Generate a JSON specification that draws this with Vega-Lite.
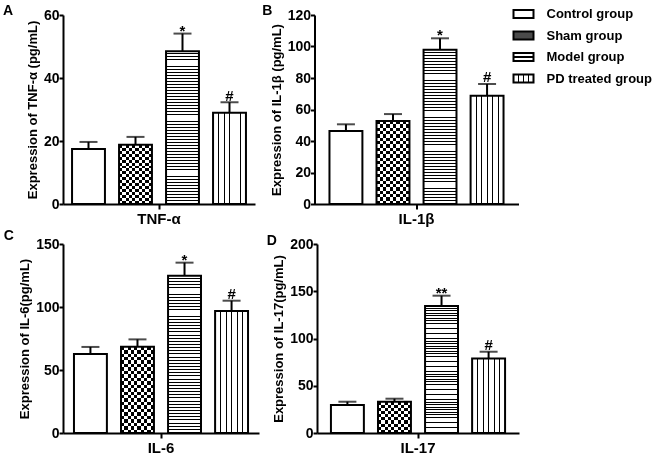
{
  "$schema": "https://vega.github.io/schema/vega-lite/v6.json",
  "padding": {"left": 2, "top": 3, "right": 0, "bottom": 0},
  "background": "white",
  "params": [
    {"name": "gShamV", "value": {"gradient": "linear", "x1": 0, "y1": 0, "x2": 1, "y2": 0, "stops": [
        {"offset": 0.1, "color": "#fff"}, {"offset": 0.1, "color": "#000"}, {"offset": 0.2, "color": "#000"}, {"offset": 0.2, "color": "#fff"},
        {"offset": 0.3, "color": "#fff"}, {"offset": 0.3, "color": "#000"}, {"offset": 0.4, "color": "#000"}, {"offset": 0.4, "color": "#fff"},
        {"offset": 0.5, "color": "#fff"}, {"offset": 0.5, "color": "#000"}, {"offset": 0.6, "color": "#000"}, {"offset": 0.6, "color": "#fff"},
        {"offset": 0.7, "color": "#fff"}, {"offset": 0.7, "color": "#000"}, {"offset": 0.8, "color": "#000"}, {"offset": 0.8, "color": "#fff"},
        {"offset": 0.9, "color": "#fff"}, {"offset": 0.9, "color": "#000"}, {"offset": 1, "color": "#000"}]}},
    {"name": "gShamH10", "value": {"gradient": "linear", "x1": 0, "y1": 0, "x2": 0, "y2": 1, "stops": [
        {"offset": 0.1, "color": "#fff"}, {"offset": 0.1, "color": "#000"}, {"offset": 0.2, "color": "#000"}, {"offset": 0.2, "color": "#fff"},
        {"offset": 0.3, "color": "#fff"}, {"offset": 0.3, "color": "#000"}, {"offset": 0.4, "color": "#000"}, {"offset": 0.4, "color": "#fff"},
        {"offset": 0.5, "color": "#fff"}, {"offset": 0.5, "color": "#000"}, {"offset": 0.6, "color": "#000"}, {"offset": 0.6, "color": "#fff"},
        {"offset": 0.7, "color": "#fff"}, {"offset": 0.7, "color": "#000"}, {"offset": 0.8, "color": "#000"}, {"offset": 0.8, "color": "#fff"},
        {"offset": 0.9, "color": "#fff"}, {"offset": 0.9, "color": "#000"}, {"offset": 1, "color": "#000"}]}},
    {"name": "gShamH20", "value": {"gradient": "linear", "x1": 0, "y1": 0, "x2": 0, "y2": 1, "stops": [
        {"offset": 0.05, "color": "#fff"}, {"offset": 0.05, "color": "#000"}, {"offset": 0.1, "color": "#000"}, {"offset": 0.1, "color": "#fff"},
        {"offset": 0.15, "color": "#fff"}, {"offset": 0.15, "color": "#000"}, {"offset": 0.2, "color": "#000"}, {"offset": 0.2, "color": "#fff"},
        {"offset": 0.25, "color": "#fff"}, {"offset": 0.25, "color": "#000"}, {"offset": 0.3, "color": "#000"}, {"offset": 0.3, "color": "#fff"},
        {"offset": 0.35, "color": "#fff"}, {"offset": 0.35, "color": "#000"}, {"offset": 0.4, "color": "#000"}, {"offset": 0.4, "color": "#fff"},
        {"offset": 0.45, "color": "#fff"}, {"offset": 0.45, "color": "#000"}, {"offset": 0.5, "color": "#000"}, {"offset": 0.5, "color": "#fff"},
        {"offset": 0.55, "color": "#fff"}, {"offset": 0.55, "color": "#000"}, {"offset": 0.6, "color": "#000"}, {"offset": 0.6, "color": "#fff"},
        {"offset": 0.65, "color": "#fff"}, {"offset": 0.65, "color": "#000"}, {"offset": 0.7, "color": "#000"}, {"offset": 0.7, "color": "#fff"},
        {"offset": 0.75, "color": "#fff"}, {"offset": 0.75, "color": "#000"}, {"offset": 0.8, "color": "#000"}, {"offset": 0.8, "color": "#fff"},
        {"offset": 0.85, "color": "#fff"}, {"offset": 0.85, "color": "#000"}, {"offset": 0.9, "color": "#000"}, {"offset": 0.9, "color": "#fff"},
        {"offset": 0.95, "color": "#fff"}, {"offset": 0.95, "color": "#000"}, {"offset": 1, "color": "#000"}]}},
    {"name": "gShamH25", "value": {"gradient": "linear", "x1": 0, "y1": 0, "x2": 0, "y2": 1, "stops": [
        {"offset": 0.04, "color": "#fff"}, {"offset": 0.04, "color": "#000"}, {"offset": 0.08, "color": "#000"}, {"offset": 0.08, "color": "#fff"},
        {"offset": 0.12, "color": "#fff"}, {"offset": 0.12, "color": "#000"}, {"offset": 0.16, "color": "#000"}, {"offset": 0.16, "color": "#fff"},
        {"offset": 0.2, "color": "#fff"}, {"offset": 0.2, "color": "#000"}, {"offset": 0.24, "color": "#000"}, {"offset": 0.24, "color": "#fff"},
        {"offset": 0.28, "color": "#fff"}, {"offset": 0.28, "color": "#000"}, {"offset": 0.32, "color": "#000"}, {"offset": 0.32, "color": "#fff"},
        {"offset": 0.36, "color": "#fff"}, {"offset": 0.36, "color": "#000"}, {"offset": 0.4, "color": "#000"}, {"offset": 0.4, "color": "#fff"},
        {"offset": 0.44, "color": "#fff"}, {"offset": 0.44, "color": "#000"}, {"offset": 0.48, "color": "#000"}, {"offset": 0.48, "color": "#fff"},
        {"offset": 0.52, "color": "#fff"}, {"offset": 0.52, "color": "#000"}, {"offset": 0.56, "color": "#000"}, {"offset": 0.56, "color": "#fff"},
        {"offset": 0.6, "color": "#fff"}, {"offset": 0.6, "color": "#000"}, {"offset": 0.64, "color": "#000"}, {"offset": 0.64, "color": "#fff"},
        {"offset": 0.68, "color": "#fff"}, {"offset": 0.68, "color": "#000"}, {"offset": 0.72, "color": "#000"}, {"offset": 0.72, "color": "#fff"},
        {"offset": 0.76, "color": "#fff"}, {"offset": 0.76, "color": "#000"}, {"offset": 0.8, "color": "#000"}, {"offset": 0.8, "color": "#fff"},
        {"offset": 0.84, "color": "#fff"}, {"offset": 0.84, "color": "#000"}, {"offset": 0.88, "color": "#000"}, {"offset": 0.88, "color": "#fff"},
        {"offset": 0.92, "color": "#fff"}, {"offset": 0.92, "color": "#000"}, {"offset": 0.96, "color": "#000"}, {"offset": 0.96, "color": "#fff"}]}},
    {"name": "gPD", "value": {"gradient": "linear", "x1": 0, "y1": 0, "x2": 1, "y2": 0, "stops": [
        {"offset": 0.152, "color": "#fff"}, {"offset": 0.152, "color": "#000"}, {"offset": 0.182, "color": "#000"}, {"offset": 0.182, "color": "#fff"},
        {"offset": 0.318, "color": "#fff"}, {"offset": 0.318, "color": "#000"}, {"offset": 0.348, "color": "#000"}, {"offset": 0.348, "color": "#fff"},
        {"offset": 0.485, "color": "#fff"}, {"offset": 0.485, "color": "#000"}, {"offset": 0.515, "color": "#000"}, {"offset": 0.515, "color": "#fff"},
        {"offset": 0.652, "color": "#fff"}, {"offset": 0.652, "color": "#000"}, {"offset": 0.682, "color": "#000"}, {"offset": 0.682, "color": "#fff"},
        {"offset": 0.818, "color": "#fff"}, {"offset": 0.818, "color": "#000"}, {"offset": 0.848, "color": "#000"}, {"offset": 0.848, "color": "#fff"}]}},
    {"name": "gModel", "value": {"gradient": "linear", "x1": 0, "y1": 0, "x2": 0, "y2": 1, "stops": [
        {"offset": 0.014, "color": "#fff"}, {"offset": 0.014, "color": "#000"}, {"offset": 0.02, "color": "#000"}, {"offset": 0.02, "color": "#fff"},
        {"offset": 0.034, "color": "#fff"}, {"offset": 0.034, "color": "#000"}, {"offset": 0.04, "color": "#000"}, {"offset": 0.04, "color": "#fff"},
        {"offset": 0.054, "color": "#fff"}, {"offset": 0.054, "color": "#000"}, {"offset": 0.06, "color": "#000"}, {"offset": 0.06, "color": "#fff"},
        {"offset": 0.074, "color": "#fff"}, {"offset": 0.074, "color": "#000"}, {"offset": 0.08, "color": "#000"}, {"offset": 0.08, "color": "#fff"},
        {"offset": 0.094, "color": "#fff"}, {"offset": 0.094, "color": "#000"}, {"offset": 0.1, "color": "#000"}, {"offset": 0.1, "color": "#fff"},
        {"offset": 0.114, "color": "#fff"}, {"offset": 0.114, "color": "#000"}, {"offset": 0.12, "color": "#000"}, {"offset": 0.12, "color": "#fff"},
        {"offset": 0.134, "color": "#fff"}, {"offset": 0.134, "color": "#000"}, {"offset": 0.14, "color": "#000"}, {"offset": 0.14, "color": "#fff"},
        {"offset": 0.154, "color": "#fff"}, {"offset": 0.154, "color": "#000"}, {"offset": 0.16, "color": "#000"}, {"offset": 0.16, "color": "#fff"},
        {"offset": 0.174, "color": "#fff"}, {"offset": 0.174, "color": "#000"}, {"offset": 0.18, "color": "#000"}, {"offset": 0.18, "color": "#fff"},
        {"offset": 0.194, "color": "#fff"}, {"offset": 0.194, "color": "#000"}, {"offset": 0.2, "color": "#000"}, {"offset": 0.2, "color": "#fff"},
        {"offset": 0.214, "color": "#fff"}, {"offset": 0.214, "color": "#000"}, {"offset": 0.22, "color": "#000"}, {"offset": 0.22, "color": "#fff"},
        {"offset": 0.234, "color": "#fff"}, {"offset": 0.234, "color": "#000"}, {"offset": 0.24, "color": "#000"}, {"offset": 0.24, "color": "#fff"},
        {"offset": 0.254, "color": "#fff"}, {"offset": 0.254, "color": "#000"}, {"offset": 0.26, "color": "#000"}, {"offset": 0.26, "color": "#fff"},
        {"offset": 0.274, "color": "#fff"}, {"offset": 0.274, "color": "#000"}, {"offset": 0.28, "color": "#000"}, {"offset": 0.28, "color": "#fff"},
        {"offset": 0.294, "color": "#fff"}, {"offset": 0.294, "color": "#000"}, {"offset": 0.3, "color": "#000"}, {"offset": 0.3, "color": "#fff"},
        {"offset": 0.314, "color": "#fff"}, {"offset": 0.314, "color": "#000"}, {"offset": 0.32, "color": "#000"}, {"offset": 0.32, "color": "#fff"},
        {"offset": 0.334, "color": "#fff"}, {"offset": 0.334, "color": "#000"}, {"offset": 0.34, "color": "#000"}, {"offset": 0.34, "color": "#fff"},
        {"offset": 0.354, "color": "#fff"}, {"offset": 0.354, "color": "#000"}, {"offset": 0.36, "color": "#000"}, {"offset": 0.36, "color": "#fff"},
        {"offset": 0.374, "color": "#fff"}, {"offset": 0.374, "color": "#000"}, {"offset": 0.38, "color": "#000"}, {"offset": 0.38, "color": "#fff"},
        {"offset": 0.394, "color": "#fff"}, {"offset": 0.394, "color": "#000"}, {"offset": 0.4, "color": "#000"}, {"offset": 0.4, "color": "#fff"},
        {"offset": 0.414, "color": "#fff"}, {"offset": 0.414, "color": "#000"}, {"offset": 0.42, "color": "#000"}, {"offset": 0.42, "color": "#fff"},
        {"offset": 0.434, "color": "#fff"}, {"offset": 0.434, "color": "#000"}, {"offset": 0.44, "color": "#000"}, {"offset": 0.44, "color": "#fff"},
        {"offset": 0.454, "color": "#fff"}, {"offset": 0.454, "color": "#000"}, {"offset": 0.46, "color": "#000"}, {"offset": 0.46, "color": "#fff"},
        {"offset": 0.474, "color": "#fff"}, {"offset": 0.474, "color": "#000"}, {"offset": 0.48, "color": "#000"}, {"offset": 0.48, "color": "#fff"},
        {"offset": 0.494, "color": "#fff"}, {"offset": 0.494, "color": "#000"}, {"offset": 0.5, "color": "#000"}, {"offset": 0.5, "color": "#fff"},
        {"offset": 0.514, "color": "#fff"}, {"offset": 0.514, "color": "#000"}, {"offset": 0.52, "color": "#000"}, {"offset": 0.52, "color": "#fff"},
        {"offset": 0.534, "color": "#fff"}, {"offset": 0.534, "color": "#000"}, {"offset": 0.54, "color": "#000"}, {"offset": 0.54, "color": "#fff"},
        {"offset": 0.554, "color": "#fff"}, {"offset": 0.554, "color": "#000"}, {"offset": 0.56, "color": "#000"}, {"offset": 0.56, "color": "#fff"},
        {"offset": 0.574, "color": "#fff"}, {"offset": 0.574, "color": "#000"}, {"offset": 0.58, "color": "#000"}, {"offset": 0.58, "color": "#fff"},
        {"offset": 0.594, "color": "#fff"}, {"offset": 0.594, "color": "#000"}, {"offset": 0.6, "color": "#000"}, {"offset": 0.6, "color": "#fff"},
        {"offset": 0.614, "color": "#fff"}, {"offset": 0.614, "color": "#000"}, {"offset": 0.62, "color": "#000"}, {"offset": 0.62, "color": "#fff"},
        {"offset": 0.634, "color": "#fff"}, {"offset": 0.634, "color": "#000"}, {"offset": 0.64, "color": "#000"}, {"offset": 0.64, "color": "#fff"},
        {"offset": 0.654, "color": "#fff"}, {"offset": 0.654, "color": "#000"}, {"offset": 0.66, "color": "#000"}, {"offset": 0.66, "color": "#fff"},
        {"offset": 0.674, "color": "#fff"}, {"offset": 0.674, "color": "#000"}, {"offset": 0.68, "color": "#000"}, {"offset": 0.68, "color": "#fff"},
        {"offset": 0.694, "color": "#fff"}, {"offset": 0.694, "color": "#000"}, {"offset": 0.7, "color": "#000"}, {"offset": 0.7, "color": "#fff"},
        {"offset": 0.714, "color": "#fff"}, {"offset": 0.714, "color": "#000"}, {"offset": 0.72, "color": "#000"}, {"offset": 0.72, "color": "#fff"},
        {"offset": 0.734, "color": "#fff"}, {"offset": 0.734, "color": "#000"}, {"offset": 0.74, "color": "#000"}, {"offset": 0.74, "color": "#fff"},
        {"offset": 0.754, "color": "#fff"}, {"offset": 0.754, "color": "#000"}, {"offset": 0.76, "color": "#000"}, {"offset": 0.76, "color": "#fff"},
        {"offset": 0.774, "color": "#fff"}, {"offset": 0.774, "color": "#000"}, {"offset": 0.78, "color": "#000"}, {"offset": 0.78, "color": "#fff"},
        {"offset": 0.794, "color": "#fff"}, {"offset": 0.794, "color": "#000"}, {"offset": 0.8, "color": "#000"}, {"offset": 0.8, "color": "#fff"},
        {"offset": 0.814, "color": "#fff"}, {"offset": 0.814, "color": "#000"}, {"offset": 0.82, "color": "#000"}, {"offset": 0.82, "color": "#fff"},
        {"offset": 0.834, "color": "#fff"}, {"offset": 0.834, "color": "#000"}, {"offset": 0.84, "color": "#000"}, {"offset": 0.84, "color": "#fff"},
        {"offset": 0.854, "color": "#fff"}, {"offset": 0.854, "color": "#000"}, {"offset": 0.86, "color": "#000"}, {"offset": 0.86, "color": "#fff"},
        {"offset": 0.874, "color": "#fff"}, {"offset": 0.874, "color": "#000"}, {"offset": 0.88, "color": "#000"}, {"offset": 0.88, "color": "#fff"},
        {"offset": 0.894, "color": "#fff"}, {"offset": 0.894, "color": "#000"}, {"offset": 0.9, "color": "#000"}, {"offset": 0.9, "color": "#fff"},
        {"offset": 0.914, "color": "#fff"}, {"offset": 0.914, "color": "#000"}, {"offset": 0.92, "color": "#000"}, {"offset": 0.92, "color": "#fff"},
        {"offset": 0.934, "color": "#fff"}, {"offset": 0.934, "color": "#000"}, {"offset": 0.94, "color": "#000"}, {"offset": 0.94, "color": "#fff"},
        {"offset": 0.954, "color": "#fff"}, {"offset": 0.954, "color": "#000"}, {"offset": 0.96, "color": "#000"}, {"offset": 0.96, "color": "#fff"},
        {"offset": 0.974, "color": "#fff"}, {"offset": 0.974, "color": "#000"}, {"offset": 0.98, "color": "#000"}, {"offset": 0.98, "color": "#fff"},
        {"offset": 0.994, "color": "#fff"}, {"offset": 0.994, "color": "#000"}, {"offset": 1, "color": "#000"}]}}
  ],
  "datasets": {
    "d": [
      {"panel": "A", "cytokine": "TNF-α", "group": "Control group", "value": 17.5, "hi": 19.7, "sig": ""},
      {"panel": "A", "cytokine": "TNF-α", "group": "Sham group", "value": 18.8, "hi": 21.3, "sig": ""},
      {"panel": "A", "cytokine": "TNF-α", "group": "Model group", "value": 48.5, "hi": 54.1, "sig": "*"},
      {"panel": "A", "cytokine": "TNF-α", "group": "PD treated group", "value": 29.0, "hi": 32.3, "sig": "#"},
      {"panel": "B", "cytokine": "IL-1β", "group": "Control group", "value": 46.3, "hi": 50.6, "sig": ""},
      {"panel": "B", "cytokine": "IL-1β", "group": "Sham group", "value": 52.7, "hi": 57.1, "sig": ""},
      {"panel": "B", "cytokine": "IL-1β", "group": "Model group", "value": 98.0, "hi": 105.2, "sig": "*"},
      {"panel": "B", "cytokine": "IL-1β", "group": "PD treated group", "value": 68.8, "hi": 76.2, "sig": "#"},
      {"panel": "C", "cytokine": "IL-6", "group": "Control group", "value": 62.7, "hi": 68.3, "sig": ""},
      {"panel": "C", "cytokine": "IL-6", "group": "Sham group", "value": 68.5, "hi": 74.3, "sig": ""},
      {"panel": "C", "cytokine": "IL-6", "group": "Model group", "value": 124.8, "hi": 135.2, "sig": "*"},
      {"panel": "C", "cytokine": "IL-6", "group": "PD treated group", "value": 96.8, "hi": 105.0, "sig": "#"},
      {"panel": "D", "cytokine": "IL-17", "group": "Control group", "value": 29.6, "hi": 33.1, "sig": ""},
      {"panel": "D", "cytokine": "IL-17", "group": "Sham group", "value": 33.1, "hi": 36.3, "sig": ""},
      {"panel": "D", "cytokine": "IL-17", "group": "Model group", "value": 134.4, "hi": 145.3, "sig": "**"},
      {"panel": "D", "cytokine": "IL-17", "group": "PD treated group", "value": 78.9, "hi": 86.0, "sig": "#"}
    ]
  },
  "data": {"name": "d"},
  "spacing": 2,
  "vconcat": [
    {
      "spacing": 6.5,
      "resolve": {"scale": {"x": "independent", "y": "independent", "xOffset": "independent"}},
      "hconcat": [
        {
          "title": {"text": "A", "dx": -23.5, "offset": -10},
          "width": 192, "height": 189,
          "transform": [{"filter": "datum.panel == 'A'"}],
          "encoding": {
            "x": {"field": "cytokine", "type": "nominal", "title": null, "scale": {"paddingInner": 0, "paddingOuter": 0.052}},
            "xOffset": {"field": "group", "type": "nominal", "sort": ["Control group", "Sham group", "Model group", "PD treated group"], "scale": {"paddingInner": 0.3, "paddingOuter": 0}},
            "y": {"field": "value", "type": "quantitative", "title": "Expression of TNF-α (pg/mL)", "scale": {"domain": [0, 60], "nice": false}, "axis": {"values": [0, 20, 40, 60]}}
          },
          "layer": [
            {"mark": {"type": "bar", "fill": "white"}},
            {"transform": [{"filter": "datum.group == 'Sham group'"}], "mark": {"type": "bar", "fill": {"expr": "gShamV"}}},
            {"transform": [{"filter": "datum.group == 'Sham group'"}], "mark": {"type": "bar", "fill": {"expr": "gShamH20"}, "blend": "difference"}},
            {"transform": [{"filter": "datum.group == 'Model group'"}], "mark": {"type": "bar", "fill": {"expr": "gModel"}}},
            {"transform": [{"filter": "datum.group == 'PD treated group'"}], "mark": {"type": "bar", "fill": {"expr": "gPD"}}},
            {"mark": {"type": "bar", "fillOpacity": 0, "stroke": "black", "strokeWidth": 2}},
            {"mark": {"type": "rule", "color": "black", "strokeWidth": 2}, "encoding": {"y2": {"field": "hi"}}},
            {"mark": {"type": "tick", "orient": "horizontal", "size": 18, "thickness": 2, "color": "black"}, "encoding": {"y": {"field": "hi", "type": "quantitative", "title": "Expression of TNF-α (pg/mL)", "scale": {"domain": [0, 60], "nice": false}}}},
            {"transform": [{"filter": "datum.sig == '*' || datum.sig == '**'"}], "mark": {"type": "text", "fontSize": 15, "fontWeight": "bold", "baseline": "alphabetic", "dy": 2, "color": "black"}, "encoding": {"y": {"field": "hi", "type": "quantitative", "title": "Expression of TNF-α (pg/mL)", "scale": {"domain": [0, 60], "nice": false}}, "text": {"field": "sig"}}},
            {"transform": [{"filter": "datum.sig == '#'"}], "mark": {"type": "text", "fontSize": 15, "fontWeight": "bold", "baseline": "alphabetic", "dy": -1.5, "color": "black"}, "encoding": {"y": {"field": "hi", "type": "quantitative", "title": "Expression of TNF-α (pg/mL)", "scale": {"domain": [0, 60], "nice": false}}, "text": {"field": "sig"}}}
          ]
        },
        {
          "title": {"text": "B", "dx": -8, "offset": -10},
          "width": 204, "height": 189,
          "transform": [{"filter": "datum.panel == 'B'"}],
          "encoding": {
            "x": {"field": "cytokine", "type": "nominal", "title": null, "scale": {"paddingInner": 0, "paddingOuter": 0.086}},
            "xOffset": {"field": "group", "type": "nominal", "sort": ["Control group", "Sham group", "Model group", "PD treated group"], "scale": {"paddingInner": 0.3, "paddingOuter": 0}},
            "y": {"field": "value", "type": "quantitative", "title": "Expression of IL-1β (pg/mL)", "scale": {"domain": [0, 120], "nice": false}, "axis": {"values": [0, 20, 40, 60, 80, 100, 120]}}
          },
          "layer": [
            {"mark": {"type": "bar", "fill": "white"}},
            {"transform": [{"filter": "datum.group == 'Sham group'"}], "mark": {"type": "bar", "fill": {"expr": "gShamV"}}},
            {"transform": [{"filter": "datum.group == 'Sham group'"}], "mark": {"type": "bar", "fill": {"expr": "gShamH25"}, "blend": "difference"}},
            {"transform": [{"filter": "datum.group == 'Model group'"}], "mark": {"type": "bar", "fill": {"expr": "gModel"}}},
            {"transform": [{"filter": "datum.group == 'PD treated group'"}], "mark": {"type": "bar", "fill": {"expr": "gPD"}}},
            {"mark": {"type": "bar", "fillOpacity": 0, "stroke": "black", "strokeWidth": 2}},
            {"mark": {"type": "rule", "color": "black", "strokeWidth": 2}, "encoding": {"y2": {"field": "hi"}}},
            {"mark": {"type": "tick", "orient": "horizontal", "size": 18, "thickness": 2, "color": "black"}, "encoding": {"y": {"field": "hi", "type": "quantitative", "title": "Expression of IL-1β (pg/mL)", "scale": {"domain": [0, 120], "nice": false}}}},
            {"transform": [{"filter": "datum.sig == '*' || datum.sig == '**'"}], "mark": {"type": "text", "fontSize": 15, "fontWeight": "bold", "baseline": "alphabetic", "dy": 2, "color": "black"}, "encoding": {"y": {"field": "hi", "type": "quantitative", "title": "Expression of IL-1β (pg/mL)", "scale": {"domain": [0, 120], "nice": false}}, "text": {"field": "sig"}}},
            {"transform": [{"filter": "datum.sig == '#'"}], "mark": {"type": "text", "fontSize": 15, "fontWeight": "bold", "baseline": "alphabetic", "dy": -1.5, "color": "black"}, "encoding": {"y": {"field": "hi", "type": "quantitative", "title": "Expression of IL-1β (pg/mL)", "scale": {"domain": [0, 120], "nice": false}}, "text": {"field": "sig"}}},
            {"mark": {"type": "bar", "opacity": 0, "stroke": "black", "strokeWidth": 2},
             "encoding": {"fill": {"field": "group", "type": "nominal",
               "scale": {"domain": ["Control group", "Sham group", "Model group", "PD treated group"],
                 "range": [
                   "#ffffff",
                   "#4a4a4a",
                   {"expr": "{gradient: 'linear', x1: 0, y1: 0, x2: 0, y2: 1, stops: [{offset: 0.42, color: '#fff'}, {offset: 0.42, color: '#000'}, {offset: 0.58, color: '#000'}, {offset: 0.58, color: '#fff'}]}"},
                   {"expr": "{gradient: 'linear', x1: 0, y1: 0, x2: 1, y2: 0, stops: [{offset: 0.225, color: '#fff'}, {offset: 0.225, color: '#000'}, {offset: 0.275, color: '#000'}, {offset: 0.275, color: '#fff'}, {offset: 0.475, color: '#fff'}, {offset: 0.475, color: '#000'}, {offset: 0.525, color: '#000'}, {offset: 0.525, color: '#fff'}, {offset: 0.725, color: '#fff'}, {offset: 0.725, color: '#000'}, {offset: 0.775, color: '#000'}, {offset: 0.775, color: '#fff'}]}"}
                 ]},
               "legend": {"title": null, "orient": "none", "legendX": 449.5, "legendY": -11.9, "padding": 0, "symbolType": "M-1,-0.4H1V0.4H-1Z", "symbolSize": 400, "symbolStrokeColor": "black", "symbolStrokeWidth": 2, "symbolOpacity": 1, "labelFontSize": 13, "labelFontWeight": "bold", "labelColor": "black", "labelOffset": 12, "rowPadding": 2.5}}}}
          ]
        }
      ]
    },
    {
      "spacing": 7,
      "resolve": {"scale": {"x": "independent", "y": "independent", "xOffset": "independent"}},
      "hconcat": [
        {
          "title": {"text": "C", "dx": -15, "offset": -5.5},
          "width": 196, "height": 189,
          "transform": [{"filter": "datum.panel == 'C'"}],
          "encoding": {
            "x": {"field": "cytokine", "type": "nominal", "title": null, "scale": {"paddingInner": 0, "paddingOuter": 0.063}},
            "xOffset": {"field": "group", "type": "nominal", "sort": ["Control group", "Sham group", "Model group", "PD treated group"], "scale": {"paddingInner": 0.3, "paddingOuter": 0}},
            "y": {"field": "value", "type": "quantitative", "title": "Expression of IL-6(pg/mL)", "scale": {"domain": [0, 150], "nice": false}, "axis": {"values": [0, 50, 100, 150]}}
          },
          "layer": [
            {"mark": {"type": "bar", "fill": "white"}},
            {"transform": [{"filter": "datum.group == 'Sham group'"}], "mark": {"type": "bar", "fill": {"expr": "gShamV"}}},
            {"transform": [{"filter": "datum.group == 'Sham group'"}], "mark": {"type": "bar", "fill": {"expr": "gShamH25"}, "blend": "difference"}},
            {"transform": [{"filter": "datum.group == 'Model group'"}], "mark": {"type": "bar", "fill": {"expr": "gModel"}}},
            {"transform": [{"filter": "datum.group == 'PD treated group'"}], "mark": {"type": "bar", "fill": {"expr": "gPD"}}},
            {"mark": {"type": "bar", "fillOpacity": 0, "stroke": "black", "strokeWidth": 2}},
            {"mark": {"type": "rule", "color": "black", "strokeWidth": 2}, "encoding": {"y2": {"field": "hi"}}},
            {"mark": {"type": "tick", "orient": "horizontal", "size": 18, "thickness": 2, "color": "black"}, "encoding": {"y": {"field": "hi", "type": "quantitative", "title": "Expression of IL-6(pg/mL)", "scale": {"domain": [0, 150], "nice": false}}}},
            {"transform": [{"filter": "datum.sig == '*' || datum.sig == '**'"}], "mark": {"type": "text", "fontSize": 15, "fontWeight": "bold", "baseline": "alphabetic", "dy": 2, "color": "black"}, "encoding": {"y": {"field": "hi", "type": "quantitative", "title": "Expression of IL-6(pg/mL)", "scale": {"domain": [0, 150], "nice": false}}, "text": {"field": "sig"}}},
            {"transform": [{"filter": "datum.sig == '#'"}], "mark": {"type": "text", "fontSize": 15, "fontWeight": "bold", "baseline": "alphabetic", "dy": -1.5, "color": "black"}, "encoding": {"y": {"field": "hi", "type": "quantitative", "title": "Expression of IL-6(pg/mL)", "scale": {"domain": [0, 150], "nice": false}}, "text": {"field": "sig"}}}
          ]
        },
        {
          "title": {"text": "D", "dx": -6, "offset": -11},
          "width": 202, "height": 189,
          "transform": [{"filter": "datum.panel == 'D'"}],
          "encoding": {
            "x": {"field": "cytokine", "type": "nominal", "title": null, "scale": {"paddingInner": 0, "paddingOuter": 0.08}},
            "xOffset": {"field": "group", "type": "nominal", "sort": ["Control group", "Sham group", "Model group", "PD treated group"], "scale": {"paddingInner": 0.3, "paddingOuter": 0}},
            "y": {"field": "value", "type": "quantitative", "title": "Expression of IL-17(pg/mL)", "scale": {"domain": [0, 200], "nice": false}, "axis": {"values": [0, 50, 100, 150, 200]}}
          },
          "layer": [
            {"mark": {"type": "bar", "fill": "white"}},
            {"transform": [{"filter": "datum.group == 'Sham group'"}], "mark": {"type": "bar", "fill": {"expr": "gShamV"}}},
            {"transform": [{"filter": "datum.group == 'Sham group'"}], "mark": {"type": "bar", "fill": {"expr": "gShamH10"}, "blend": "difference"}},
            {"transform": [{"filter": "datum.group == 'Model group'"}], "mark": {"type": "bar", "fill": {"expr": "gModel"}}},
            {"transform": [{"filter": "datum.group == 'PD treated group'"}], "mark": {"type": "bar", "fill": {"expr": "gPD"}}},
            {"mark": {"type": "bar", "fillOpacity": 0, "stroke": "black", "strokeWidth": 2}},
            {"mark": {"type": "rule", "color": "black", "strokeWidth": 2}, "encoding": {"y2": {"field": "hi"}}},
            {"mark": {"type": "tick", "orient": "horizontal", "size": 18, "thickness": 2, "color": "black"}, "encoding": {"y": {"field": "hi", "type": "quantitative", "title": "Expression of IL-17(pg/mL)", "scale": {"domain": [0, 200], "nice": false}}}},
            {"transform": [{"filter": "datum.sig == '*' || datum.sig == '**'"}], "mark": {"type": "text", "fontSize": 15, "fontWeight": "bold", "baseline": "alphabetic", "dy": 2, "color": "black"}, "encoding": {"y": {"field": "hi", "type": "quantitative", "title": "Expression of IL-17(pg/mL)", "scale": {"domain": [0, 200], "nice": false}}, "text": {"field": "sig"}}},
            {"transform": [{"filter": "datum.sig == '#'"}], "mark": {"type": "text", "fontSize": 15, "fontWeight": "bold", "baseline": "alphabetic", "dy": -1.5, "color": "black"}, "encoding": {"y": {"field": "hi", "type": "quantitative", "title": "Expression of IL-17(pg/mL)", "scale": {"domain": [0, 200], "nice": false}}, "text": {"field": "sig"}}}
          ]
        }
      ]
    }
  ],
  "config": {
    "font": "Liberation Sans",
    "view": {"stroke": null},
    "title": {"anchor": "start", "frame": "bounds", "fontSize": 14, "fontWeight": "bold", "color": "black"},
    "axis": {"domainColor": "black", "domainWidth": 2, "tickColor": "black", "tickWidth": 2, "tickSize": 4, "labelColor": "black", "labelFontWeight": "bold", "labelFontSize": 14, "labelPadding": 0, "titleColor": "black", "titleFontWeight": "bold", "titleFontSize": 13, "titlePadding": 4, "grid": false},
    "axisX": {"labelAngle": 0, "labelFontSize": 15, "labelPadding": 2, "tickSize": 5}
  }
}
